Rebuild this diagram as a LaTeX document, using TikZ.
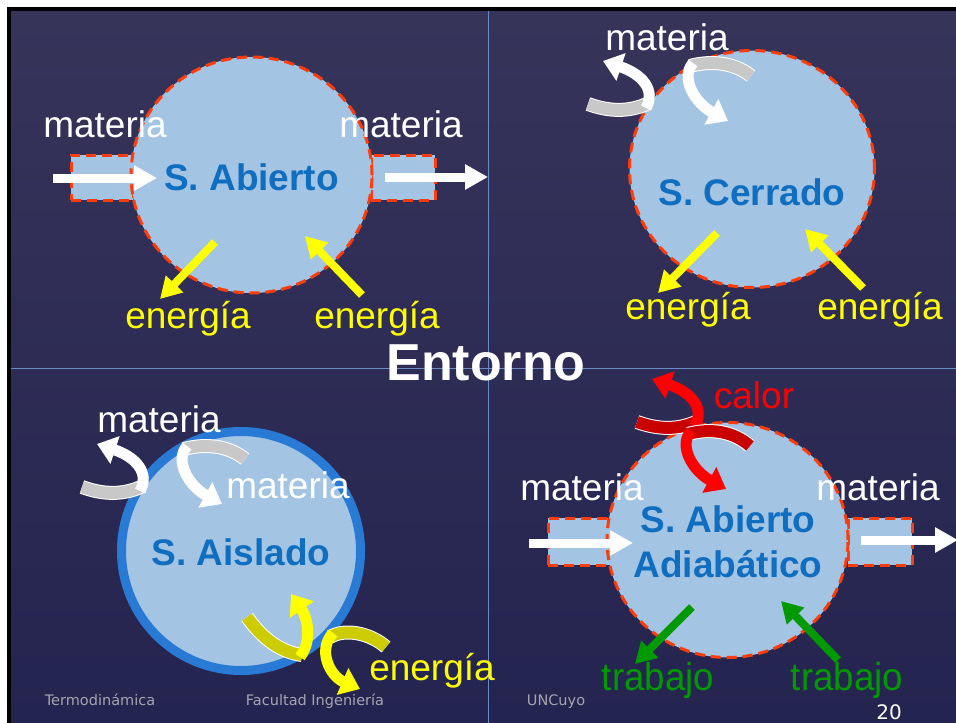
\documentclass[tikz,border=0pt]{standalone}
\usepackage{fontspec}
\setmainfont{Liberation Sans}
\newfontfamily\footfont{DejaVu Sans}
\usetikzlibrary{arrows.meta,shapes.geometric}
\definecolor{bgtop}{RGB}{55,52,90}
\definecolor{bgbot}{RGB}{36,36,80}
\definecolor{sysfill}{RGB}{163,196,226}
\definecolor{dashred}{RGB}{255,60,10}
\definecolor{sysblue}{RGB}{16,110,192}
\definecolor{ringblue}{RGB}{40,122,212}
\definecolor{divline}{RGB}{105,140,200}
\definecolor{ribgrey}{RGB}{200,200,200}
\definecolor{yel}{RGB}{255,255,0}
\definecolor{darkyel}{RGB}{204,204,0}
\definecolor{myred}{RGB}{255,0,0}
\definecolor{darkred}{RGB}{200,0,0}
\definecolor{mygreen}{RGB}{0,153,0}
\definecolor{footgrey}{RGB}{165,165,175}
\newcommand\ribbonarrow[4]{%
  \draw[white, line width=14pt] #3;
  \draw[#1, line width=12pt] #3;
  \draw[#2, line width=11pt, -{Triangle[length=19pt,width=28pt]}] #4;
}
\tikzset{
  sysshape/.style={fill=sysfill, draw=dashred, line width=3pt, dash pattern=on 10pt off 6pt, inner sep=0pt},
  bigtxt/.style={font=\fontsize{37}{40}\selectfont, inner sep=0pt, anchor=base},
  systxt/.style={bigtxt, font=\bfseries\fontsize{37}{40}\selectfont, text=sysblue},
  footxt/.style={font=\footfont\fontsize{14.5}{16}\selectfont, text=footgrey, inner sep=0pt, anchor=base},
  whitearrow/.style={white, line width=9pt, -{Triangle[length=23pt,width=24pt]}},
  colarrow/.style={line width=8pt, -{Triangle[length=21pt,width=23pt]}},
}
\begin{document}
\begin{tikzpicture}[x=1pt,y=-1pt]
\useasboundingbox (0,0) rectangle (956,723);
\fill[white] (0,0) rectangle (956,723);
\fill[black] (7,7) rectangle (956,723);
\shade[top color=bgtop, bottom color=bgbot] (11,11) rectangle (956,723);
% dividers
\coordinate (vt) at (488,11); \coordinate (vb) at (488,723);
\coordinate (hl) at (11,368); \coordinate (hr) at (956,368);
\draw[divline, line width=1pt] (vt) -- (vb);
\draw[divline, line width=1pt] (hl) -- (hr);

% ===== Quadrant 1: S. Abierto =====
\node[sysshape, rectangle, minimum width=62pt, minimum height=45pt] (r1l) at (102,177.5) {};
\node[sysshape, rectangle, minimum width=64pt, minimum height=45pt] (r1r) at (403,177.5) {};
\node[sysshape, ellipse, minimum width=241pt, minimum height=236pt] (c1) at (251.5,175) {};
\node[systxt] (t1) at (251.5,190) {S. Abierto};
\coordinate (a1s) at (53,178); \coordinate (a1e) at (157,178);
\draw[whitearrow] (a1s) -- (a1e);
\coordinate (a2s) at (385,177); \coordinate (a2e) at (488,177);
\draw[whitearrow] (a2s) -- (a2e);
\coordinate (y1s) at (215,242); \coordinate (y1e) at (160,299);
\draw[colarrow, yel] (y1s) -- (y1e);
\coordinate (y2s) at (362,295); \coordinate (y2e) at (305,236);
\draw[colarrow, yel] (y2s) -- (y2e);
\node[bigtxt, white] (m1) at (105,137) {materia};
\node[bigtxt, white] (m2) at (401,137) {materia};
\node[bigtxt, yel] (e1) at (188,328) {energía};
\node[bigtxt, yel] (e2) at (377,328) {energía};

% ===== Quadrant 2: S. Cerrado =====
\node[sysshape, ellipse, minimum width=245pt, minimum height=237pt] (c2) at (752,169) {};
\node[systxt] (t2) at (752,205) {S. Cerrado};
\ribbonarrow{ribgrey}{white}{(588,104) .. controls (610,112) and (630,112) .. (649,103)}{(646,108) .. controls (656,90) and (642,74) .. (603,61)}
\ribbonarrow{ribgrey}{white}{(751,76) .. controls (735,63) and (712,60) .. (690,66)}{(693,63) .. controls (680,78) and (695,103) .. (728,121)}
\coordinate (y3s) at (717,233); \coordinate (y3e) at (658,293);
\draw[colarrow, yel] (y3s) -- (y3e);
\coordinate (y4s) at (863,288); \coordinate (y4e) at (805,229);
\draw[colarrow, yel] (y4s) -- (y4e);
\node[bigtxt, white] (m3) at (667,50) {materia};
\node[bigtxt, yel] (e3) at (688,319) {energía};
\node[bigtxt, yel] (e4) at (880,319) {energía};

% ===== Entorno =====
\node[bigtxt, white, font=\bfseries\fontsize{52}{56}\selectfont] (ent) at (486,380) {Entorno};

% ===== Quadrant 3: S. Aislado =====
\node[circle, fill=sysfill, draw=ringblue, line width=9pt, minimum size=239pt, inner sep=0pt] (c3) at (241,551) {};
\node[systxt] (t3) at (241,565) {S. Aislado};
\begin{scope}[shift={(-506,383)}]
\ribbonarrow{ribgrey}{white}{(588,104) .. controls (610,112) and (630,112) .. (649,103)}{(646,108) .. controls (656,90) and (642,74) .. (603,61)}
\ribbonarrow{ribgrey}{white}{(751,76) .. controls (735,63) and (712,60) .. (690,66)}{(693,63) .. controls (680,78) and (695,103) .. (728,121)}
\end{scope}
\ribbonarrow{darkyel}{yel}{(247,617) .. controls (262,638) and (280,652) .. (302,655)}{(300,657) .. controls (313,640) and (307,617) .. (291,594)}
\ribbonarrow{darkyel}{yel}{(386,647) .. controls (370,633) and (345,628) .. (330,637)}{(333,633) .. controls (317,650) and (330,676) .. (360,689)}
\node[bigtxt, white] (m4) at (159,432) {materia};
\node[bigtxt, white] (m5) at (288,498) {materia};
\node[bigtxt, yel] (e5) at (432,680) {energía};

% ===== Quadrant 4: S. Abierto Adiabatico =====
\node[sysshape, rectangle, minimum width=62pt, minimum height=47pt] (r4l) at (579,541.5) {};
\node[sysshape, rectangle, minimum width=64pt, minimum height=47pt] (r4r) at (880,541.5) {};
\node[sysshape, ellipse, minimum width=241pt, minimum height=235pt] (c4) at (727.5,540) {};
\node[systxt] (t4a) at (728,532) {S. Abierto};
\node[systxt] (t4b) at (728,577) {Adiabático};
\coordinate (a3s) at (529,543); \coordinate (a3e) at (633,543);
\draw[whitearrow] (a3s) -- (a3e);
\coordinate (a4s) at (861,540); \coordinate (a4e) at (958,540);
\draw[whitearrow] (a4s) -- (a4e);
\begin{scope}[shift={(49,318)}]
\ribbonarrow{darkred}{myred}{(588,104) .. controls (610,112) and (630,112) .. (649,103)}{(646,108) .. controls (656,90) and (642,74) .. (603,61)}
\end{scope}
\begin{scope}[shift={(-2,368)}]
\ribbonarrow{darkred}{myred}{(752,78) .. controls (735,63) and (712,60) .. (690,66)}{(693,63) .. controls (680,78) and (695,103) .. (728,121)}
\end{scope}
\coordinate (g1s) at (692,607); \coordinate (g1e) at (635,664);
\draw[colarrow, mygreen] (g1s) -- (g1e);
\coordinate (g2s) at (838,660); \coordinate (g2e) at (781,601);
\draw[colarrow, mygreen] (g2s) -- (g2e);
\node[bigtxt, white] (m6) at (582,500) {materia};
\node[bigtxt, white] (m7) at (878,500) {materia};
\node[bigtxt, myred] (cal) at (754,408) {calor};
\node[bigtxt, mygreen, font=\fontsize{39}{42}\selectfont, xscale=0.94] (tr1) at (658,690) {trabajo};
\node[bigtxt, mygreen, font=\fontsize{39}{42}\selectfont, xscale=0.94] (tr2) at (847,690) {trabajo};

% ===== Footer =====
\node[footxt] (f1) at (100,705) {Termodinámica};
\node[footxt] (f2) at (315,705) {Facultad Ingeniería};
\node[footxt] (f3) at (556,705) {UNCuyo};
\node[footxt, text=white, font=\footfont\fontsize{20}{22}\selectfont] (pg) at (889,719) {20};
\end{tikzpicture}
\end{document}
